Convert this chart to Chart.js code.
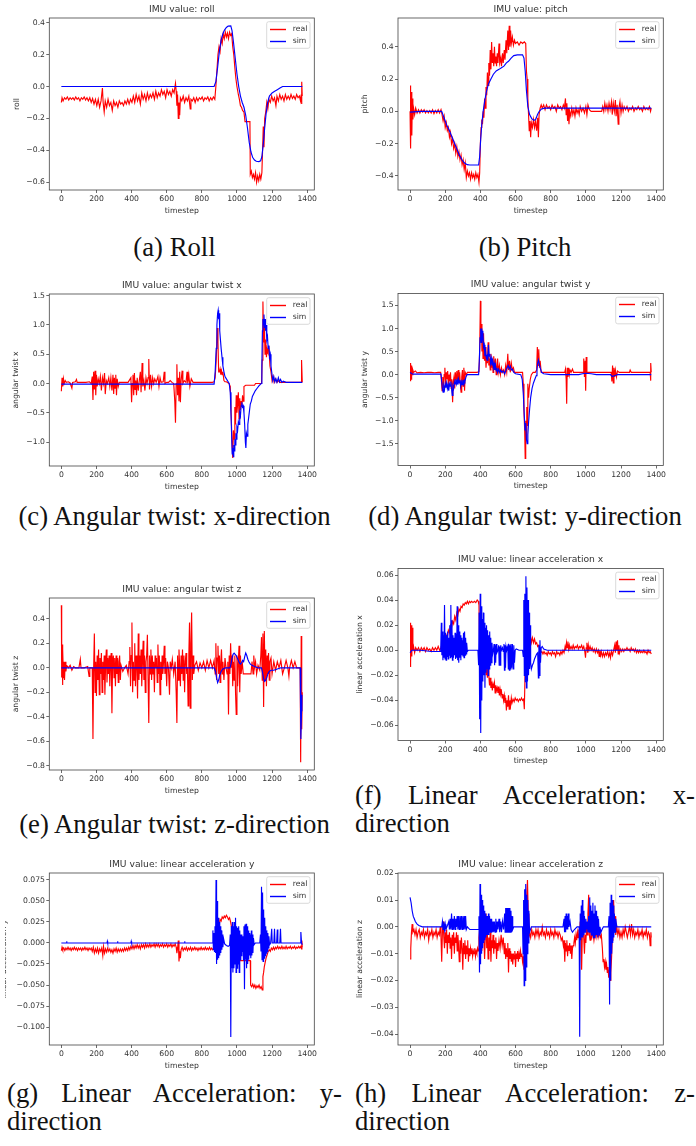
<!DOCTYPE html>
<html lang="en">
<head>
<meta charset="UTF-8" />
<title>IMU values: real vs sim</title>
<script src="https://cdn.jsdelivr.net/npm/chart.js"></script>
<style>
  html, body { margin: 0; padding: 0; background: #fff; }
  body { position: relative; width: 696px; height: 1146px; overflow: hidden; }
  .clip { position: absolute; overflow: hidden; }
  .clip canvas { position: absolute; }
  .cap { position: absolute; font-family: "Liberation Serif", "Times New Roman", serif; font-size: 26.7px; line-height: 27.7px; color: #111; white-space: nowrap; }
  .cap.center { text-align: center; }
  .cap .just { text-align: justify; text-align-last: justify; }
</style>
</head>
<body>

<div class="cap center" style="left:7px; top:234px; width:335px;">(a) Roll</div>
<div class="cap center" style="left:355px; top:234px; width:340px;">(b) Pitch</div>
<div class="cap center" style="left:7px; top:503px; width:335px;">(c) Angular twist: x-direction</div>
<div class="cap center" style="left:355px; top:503px; width:340px;">(d) Angular twist: y-direction</div>
<div class="cap center" style="left:7px; top:811px; width:335px;">(e) Angular twist: z-direction</div>
<div class="cap" style="left:355px; top:782px; width:340px;"><div class="just">(f) Linear Acceleration: x-</div><div>direction</div></div>
<div class="cap" style="left:7px; top:1080px; width:335px;"><div class="just">(g) Linear Acceleration: y-</div><div>direction</div></div>
<div class="cap" style="left:355px; top:1080px; width:340px;"><div class="just">(h) Linear Acceleration: z-</div><div>direction</div></div>

<script>
// ---- data: [timestep, value] ----
const rollReal = [[0,-0.10],[4,-0.07],[10,-0.09],[18,-0.07],[26,-0.08],[34,-0.065],[42,-0.085],[50,-0.07],[58,-0.08],[66,-0.07],[74,-0.085],[82,-0.065],[90,-0.08],[98,-0.07],[106,-0.09],[114,-0.07],[122,-0.08],[130,-0.065],[138,-0.085],[146,-0.07],[154,-0.09],[162,-0.07],[170,-0.1],[178,-0.075],[186,-0.11],[194,-0.08],[202,-0.12],[210,-0.08],[218,-0.13],[226,-0.09],[234,-0.01],[238,-0.1],[244,-0.16],[250,-0.09],[258,-0.13],[266,-0.08],[274,-0.12],[282,-0.1],[290,-0.15],[298,-0.09],[306,-0.12],[314,-0.1],[322,-0.13],[330,-0.09],[338,-0.11],[346,-0.1],[354,-0.12],[362,-0.09],[370,-0.11],[378,-0.08],[386,-0.11],[394,-0.08],[402,-0.1],[410,-0.06],[418,-0.1],[426,-0.05],[434,-0.09],[442,-0.06],[450,-0.11],[458,-0.04],[466,-0.08],[474,-0.05],[482,-0.09],[490,-0.04],[498,-0.08],[506,-0.05],[514,-0.07],[522,-0.04],[530,-0.08],[538,-0.03],[546,-0.07],[554,-0.04],[562,-0.06],[570,-0.02],[578,-0.05],[586,-0.03],[594,-0.07],[602,-0.02],[610,-0.05],[618,-0.03],[626,-0.06],[634,-0.02],[642,-0.04],[650,0.02],[654,-0.03],[658,-0.12],[662,-0.05],[666,-0.2],[670,-0.1],[674,-0.18],[678,-0.07],[686,-0.09],[694,-0.06],[702,-0.1],[710,-0.07],[718,-0.09],[726,-0.06],[734,-0.14],[738,-0.08],[746,-0.09],[754,-0.07],[762,-0.1],[770,-0.07],[778,-0.09],[786,-0.07],[794,-0.08],[802,-0.065],[810,-0.09],[818,-0.07],[826,-0.08],[834,-0.065],[842,-0.09],[850,-0.07],[858,-0.085],[866,-0.065],[874,-0.08],[880,0.0],[886,0.1],[892,0.2],[898,0.25],[904,0.22],[910,0.3],[916,0.27],[922,0.33],[928,0.3],[934,0.34],[940,0.31],[946,0.335],[952,0.3],[958,0.34],[964,0.32],[970,0.33],[976,0.25],[982,0.2],[988,0.12],[994,0.05],[1000,0.0],[1008,-0.05],[1014,-0.08],[1020,-0.12],[1026,-0.13],[1032,-0.15],[1040,-0.16],[1046,-0.22],[1052,-0.22],[1074,-0.22],[1076,-0.55],[1082,-0.53],[1088,-0.57],[1094,-0.55],[1100,-0.58],[1106,-0.54],[1112,-0.6],[1118,-0.56],[1124,-0.59],[1130,-0.55],[1136,-0.58],[1142,-0.54],[1146,-0.4],[1150,-0.25],[1154,-0.38],[1158,-0.2],[1164,-0.16],[1170,-0.1],[1176,-0.14],[1182,-0.08],[1190,-0.1],[1198,-0.06],[1206,-0.09],[1214,-0.07],[1222,-0.12],[1228,-0.06],[1236,-0.09],[1244,-0.05],[1252,-0.08],[1260,-0.06],[1268,-0.09],[1276,-0.05],[1284,-0.08],[1292,-0.06],[1300,-0.08],[1308,-0.05],[1316,-0.075],[1324,-0.06],[1332,-0.08],[1340,-0.05],[1348,-0.07],[1356,-0.06],[1362,-0.09],[1366,-0.05],[1368,-0.11],[1370,0.03],[1372,-0.06]];
const rollSim = [[0,0],[870,0],[880,0.03],[890,0.12],[900,0.22],[910,0.29],[920,0.33],[930,0.355],[940,0.37],[950,0.378],[965,0.38],[972,0.35],[980,0.28],[990,0.18],[1000,0.08],[1010,0.0],[1020,-0.06],[1030,-0.1],[1040,-0.13],[1050,-0.18],[1060,-0.26],[1070,-0.35],[1080,-0.41],[1090,-0.445],[1100,-0.46],[1110,-0.468],[1125,-0.47],[1135,-0.465],[1142,-0.44],[1150,-0.36],[1158,-0.26],[1166,-0.17],[1175,-0.1],[1185,-0.06],[1200,-0.04],[1215,-0.03],[1230,-0.02],[1245,-0.01],[1260,0.0],[1372,0.0]];

const pitchReal = [[0,0.0],[2,0.16],[4,-0.23],[7,0.12],[10,-0.15],[13,0.08],[16,-0.05],[20,0.02],[26,-0.02],[32,0.02],[40,-0.01],[48,0.01],[56,-0.01],[64,0.01],[72,-0.005],[80,0.01],[88,-0.01],[96,0.005],[104,-0.01],[112,0.005],[120,-0.01],[128,0.01],[136,-0.015],[144,0.005],[152,-0.01],[160,0.01],[168,-0.01],[176,0.01],[182,-0.02],[188,-0.06],[194,-0.03],[200,-0.1],[206,-0.07],[212,-0.12],[218,-0.1],[224,-0.16],[230,-0.13],[236,-0.2],[242,-0.17],[248,-0.23],[254,-0.2],[260,-0.26],[266,-0.22],[272,-0.28],[278,-0.25],[284,-0.3],[290,-0.27],[296,-0.33],[302,-0.3],[308,-0.36],[314,-0.32],[320,-0.41],[326,-0.37],[332,-0.4],[338,-0.38],[344,-0.42],[350,-0.38],[356,-0.41],[362,-0.39],[368,-0.42],[374,-0.38],[380,-0.41],[386,-0.39],[392,-0.44],[396,-0.38],[400,-0.2],[404,-0.1],[408,-0.05],[412,-0.08],[416,0.0],[420,-0.04],[424,0.08],[428,0.02],[432,0.15],[436,0.1],[440,0.24],[444,0.16],[448,0.3],[452,0.22],[456,0.38],[460,0.26],[464,0.43],[468,0.3],[472,0.36],[476,0.28],[480,0.4],[484,0.3],[488,0.34],[492,0.28],[496,0.36],[500,0.3],[506,0.42],[510,0.3],[516,0.33],[520,0.28],[526,0.36],[530,0.3],[536,0.38],[540,0.32],[546,0.44],[550,0.36],[556,0.5],[560,0.38],[564,0.53],[568,0.4],[572,0.5],[576,0.42],[582,0.46],[588,0.41],[594,0.44],[600,0.42],[610,0.43],[620,0.41],[630,0.43],[640,0.42],[650,0.43],[658,0.42],[662,0.25],[666,0.2],[670,0.08],[674,-0.02],[678,-0.12],[682,-0.06],[686,-0.16],[690,-0.07],[696,-0.1],[702,-0.05],[708,-0.1],[714,-0.06],[720,-0.12],[726,-0.04],[730,-0.16],[734,-0.02],[740,0.02],[746,0.04],[752,0.02],[760,0.04],[768,0.01],[776,0.04],[784,0.02],[792,0.03],[800,0.01],[808,0.04],[816,0.02],[824,0.03],[832,0.0],[840,0.04],[848,0.02],[856,0.03],[864,0.01],[872,0.04],[878,0.02],[884,0.08],[888,-0.02],[892,0.05],[896,-0.06],[900,0.02],[904,-0.08],[908,0.0],[914,-0.03],[920,0.02],[926,-0.02],[932,0.01],[938,-0.03],[944,0.02],[950,-0.01],[956,0.01],[962,-0.02],[968,0.03],[976,0.0],[984,0.02],[992,-0.01],[1000,0.03],[1006,-0.02],[1012,0.04],[1020,0.01],[1030,0.0],[1040,0.0],[1090,0.0],[1096,0.03],[1102,0.0],[1108,0.05],[1114,0.01],[1120,0.04],[1126,0.0],[1132,0.05],[1138,0.01],[1146,0.06],[1150,-0.02],[1156,0.05],[1162,0.0],[1168,0.07],[1172,-0.03],[1178,0.04],[1184,-0.08],[1188,0.02],[1194,0.06],[1200,-0.01],[1206,0.04],[1212,0.0],[1218,0.03],[1226,0.01],[1234,0.03],[1242,0.0],[1250,0.02],[1258,0.01],[1266,0.03],[1274,0.0],[1282,0.02],[1290,0.01],[1298,0.03],[1306,0.01],[1314,0.02],[1322,0.0],[1330,0.03],[1338,0.01],[1346,0.02],[1354,0.01],[1362,0.03],[1368,0.0],[1372,0.02]];
const pitchSim = [[0,-0.005],[60,0.0],[180,0.0],[190,-0.03],[200,-0.06],[210,-0.09],[220,-0.11],[235,-0.15],[250,-0.19],[265,-0.23],[280,-0.27],[295,-0.3],[310,-0.32],[325,-0.33],[340,-0.332],[390,-0.332],[396,-0.28],[402,-0.17],[408,-0.08],[416,0.0],[424,0.06],[434,0.12],[446,0.17],[460,0.2],[474,0.23],[490,0.25],[506,0.26],[520,0.27],[534,0.28],[548,0.3],[560,0.31],[575,0.33],[590,0.345],[610,0.35],[640,0.35],[648,0.33],[655,0.25],[662,0.13],[670,0.03],[680,-0.02],[692,-0.045],[705,-0.055],[715,-0.05],[725,-0.02],[735,0.0],[748,0.015],[765,0.02],[1372,0.02]];

const twistXReal = [[0,-0.13],[4,0.1],[8,-0.05],[12,0.08],[16,0.0],[22,0.05],[28,0.02],[40,0.03],[50,0.01],[60,-0.08],[64,0.02],[80,0.03],[86,0.07],[90,0.02],[110,0.02],[140,0.02],[160,0.03],[170,0.0],[176,0.12],[180,-0.28],[184,0.2],[188,-0.1],[192,0.22],[196,-0.2],[200,0.15],[204,-0.05],[210,0.08],[216,0.0],[222,0.12],[228,-0.12],[234,0.1],[240,0.0],[246,0.18],[250,-0.18],[256,0.05],[262,0.0],[270,0.1],[276,-0.05],[282,0.1],[288,-0.12],[294,0.15],[298,-0.18],[302,0.1],[306,-0.08],[310,0.15],[314,-0.2],[318,0.08],[324,-0.05],[330,0.02],[340,0.02],[360,0.02],[380,0.02],[396,0.1],[400,-0.32],[404,0.0],[408,0.15],[412,-0.2],[416,0.18],[420,-0.1],[424,0.05],[428,-0.2],[432,0.1],[438,-0.12],[444,0.05],[450,0.2],[454,-0.15],[460,0.35],[464,-0.05],[470,0.05],[476,-0.12],[482,0.1],[488,0.0],[494,0.1],[498,0.42],[502,-0.1],[508,0.15],[514,-0.05],[520,0.1],[526,0.0],[532,0.08],[540,0.02],[550,0.12],[556,-0.05],[562,0.1],[568,0.02],[580,0.03],[586,0.2],[590,0.0],[600,0.02],[610,0.02],[620,0.05],[630,0.02],[640,0.0],[646,-0.3],[650,-0.67],[654,0.0],[658,0.33],[662,-0.2],[666,0.1],[670,-0.3],[674,0.2],[678,-0.32],[682,0.05],[688,0.22],[692,0.0],[700,0.05],[710,0.02],[716,0.2],[720,0.0],[726,0.15],[732,-0.05],[740,0.08],[750,0.02],[780,0.02],[820,0.02],[860,0.02],[870,0.03],[876,0.1],[882,0.4],[888,0.95],[892,0.7],[896,0.2],[900,0.2],[904,0.25],[908,0.15],[912,0.22],[916,0.15],[920,0.2],[926,0.05],[932,0.03],[940,0.03],[955,0.0],[962,-0.05],[968,-0.6],[972,-1.0],[976,-1.27],[980,-0.8],[984,-0.95],[988,-0.4],[992,-0.7],[996,-0.2],[1000,-0.5],[1004,-0.35],[1008,-0.15],[1012,-0.6],[1016,-0.25],[1020,-0.45],[1024,-0.3],[1028,-0.4],[1032,-0.2],[1036,-0.3],[1040,-0.05],[1050,-0.03],[1100,-0.03],[1106,0.0],[1140,0.0],[1144,0.4],[1148,1.4],[1152,0.7],[1156,1.0],[1160,0.5],[1164,0.75],[1168,0.45],[1172,0.6],[1176,0.55],[1182,0.6],[1188,0.3],[1194,0.2],[1200,0.05],[1206,0.12],[1212,0.02],[1220,0.08],[1228,0.02],[1236,0.05],[1244,0.02],[1260,0.02],[1300,0.02],[1366,0.02],[1368,0.4],[1372,0.02]];
const twistXSim = [[0,-0.01],[870,-0.01],[876,0.2],[882,0.6],[886,1.0],[890,1.2],[893,1.25],[896,1.1],[899,1.2],[902,0.9],[906,0.75],[910,0.6],[915,0.45],[920,0.3],[926,0.2],[932,0.12],[940,0.08],[948,0.04],[956,0.0],[962,-0.15],[966,-0.5],[970,-0.9],[973,-1.2],[976,-1.1],[979,-1.25],[982,-1.05],[985,-1.15],[988,-0.95],[991,-1.05],[994,-0.85],[997,-0.95],[1000,-0.75],[1004,-0.8],[1008,-0.65],[1012,-0.7],[1016,-0.5],[1020,-0.55],[1024,-0.38],[1028,-0.32],[1032,-0.4],[1036,-0.38],[1040,-0.5],[1044,-0.7],[1048,-1.0],[1051,-1.1],[1054,-0.85],[1058,-0.9],[1062,-0.7],[1066,-0.6],[1070,-0.5],[1076,-0.35],[1082,-0.3],[1088,-0.22],[1095,-0.18],[1105,-0.12],[1115,-0.08],[1125,-0.04],[1138,0.0],[1142,0.3],[1145,0.9],[1148,1.1],[1151,1.0],[1154,1.18],[1157,0.95],[1160,1.1],[1163,0.9],[1166,1.0],[1170,0.75],[1174,0.8],[1178,0.6],[1182,0.65],[1186,0.45],[1190,0.5],[1194,0.3],[1198,0.2],[1204,0.05],[1210,0.12],[1216,0.03],[1222,0.08],[1228,0.02],[1236,0.1],[1242,0.03],[1248,0.07],[1256,0.02],[1264,0.04],[1280,0.02],[1320,0.02],[1372,0.02]];

const twistYReal = [[0,-0.13],[3,0.25],[6,-0.1],[9,0.2],[12,0.0],[16,0.1],[20,0.05],[30,0.08],[40,0.04],[60,0.05],[80,0.04],[100,0.05],[120,0.05],[140,0.04],[160,0.05],[174,0.05],[178,-0.1],[182,-0.35],[186,-0.05],[190,-0.3],[194,0.0],[198,0.15],[202,-0.2],[206,0.05],[210,-0.1],[214,0.08],[218,-0.25],[222,0.0],[226,-0.15],[230,0.05],[234,-0.3],[238,-0.1],[242,-0.6],[246,-0.15],[250,-0.05],[254,-0.3],[258,0.05],[262,-0.1],[266,0.08],[270,-0.2],[274,0.1],[278,-0.15],[282,0.05],[286,-0.2],[290,-0.38],[294,-0.05],[298,0.1],[302,-0.25],[306,0.15],[310,-0.35],[314,0.05],[320,0.0],[326,0.05],[340,0.05],[360,0.05],[380,0.05],[392,0.06],[396,0.5],[400,1.6],[403,0.7],[406,1.1],[409,0.5],[412,0.8],[415,0.35],[418,0.9],[421,0.4],[424,0.3],[428,0.6],[432,0.15],[436,0.4],[440,0.25],[444,0.7],[448,0.2],[452,0.35],[456,0.1],[460,0.45],[464,0.15],[468,0.3],[472,0.05],[476,0.4],[480,0.1],[486,0.35],[490,0.0],[494,0.15],[498,0.35],[502,0.05],[508,0.2],[514,0.0],[520,0.15],[526,0.05],[532,0.1],[538,0.0],[544,0.2],[550,0.05],[556,0.45],[560,0.1],[566,0.3],[570,0.05],[576,0.25],[582,0.1],[588,0.15],[594,0.05],[600,0.05],[620,0.05],[640,0.05],[644,-0.2],[648,-0.8],[652,-1.2],[655,-1.82],[658,-1.0],[661,-1.4],[664,-0.7],[667,-1.1],[670,-0.2],[674,-0.5],[678,-0.3],[684,-0.1],[690,0.0],[700,0.05],[712,0.05],[720,0.1],[724,0.6],[728,0.2],[732,0.55],[736,0.15],[740,0.3],[746,0.05],[760,0.05],[800,0.05],[840,0.05],[880,0.05],[884,0.12],[888,-0.1],[891,-0.63],[894,0.15],[898,-0.05],[902,0.15],[906,0.0],[910,0.1],[916,0.05],[924,0.12],[930,0.05],[960,0.05],[984,0.05],[988,0.35],[992,-0.05],[996,0.3],[999,-0.35],[1002,0.38],[1006,0.05],[1020,0.05],[1060,0.05],[1100,0.05],[1144,0.05],[1148,-0.15],[1152,0.2],[1156,-0.18],[1160,0.15],[1164,-0.05],[1168,0.1],[1174,-0.05],[1180,0.08],[1190,0.05],[1220,0.05],[1248,0.05],[1252,0.1],[1258,0.05],[1300,0.05],[1340,0.05],[1366,0.05],[1368,-0.13],[1370,0.25],[1372,0.05]];
const twistYSim = [[0,0.05],[10,0.02],[20,0.01],[176,0.01],[180,-0.15],[184,-0.3],[188,-0.38],[192,-0.25],[196,-0.32],[200,-0.2],[204,-0.28],[208,-0.18],[212,-0.3],[216,-0.22],[220,-0.35],[224,-0.2],[228,-0.25],[232,-0.15],[236,-0.3],[240,-0.45],[244,-0.25],[248,-0.3],[252,-0.15],[256,-0.2],[260,-0.1],[264,-0.2],[268,-0.12],[272,-0.22],[276,-0.1],[280,-0.18],[284,-0.12],[288,-0.25],[292,-0.15],[296,-0.22],[300,-0.12],[304,-0.2],[308,-0.12],[312,-0.15],[318,-0.05],[324,0.0],[390,0.0],[394,0.3],[398,0.8],[402,1.0],[405,0.7],[408,1.0],[411,0.75],[414,0.95],[418,0.6],[422,0.65],[426,0.4],[430,0.5],[434,0.35],[438,0.4],[442,0.3],[446,0.65],[450,0.4],[454,0.45],[458,0.25],[462,0.35],[466,0.2],[470,0.3],[474,0.15],[478,0.25],[482,0.1],[486,0.2],[490,0.08],[494,0.15],[498,0.05],[504,0.12],[510,0.05],[516,0.1],[522,0.05],[530,0.08],[538,0.02],[546,0.1],[552,0.15],[558,0.2],[564,0.12],[570,0.18],[576,0.1],[582,0.12],[590,0.05],[600,0.02],[630,0.0],[638,-0.1],[644,-0.4],[650,-0.9],[654,-1.2],[658,-1.05],[662,-1.4],[666,-1.5],[670,-1.3],[674,-1.05],[680,-0.75],[686,-0.5],[694,-0.3],[702,-0.18],[710,-0.1],[718,-0.02],[722,0.1],[726,0.25],[730,0.32],[734,0.25],[740,0.15],[748,0.05],[760,0.02],[800,0.0],[960,0.0],[980,0.02],[1000,0.03],[1030,0.02],[1060,0.0],[1140,0.0],[1150,-0.04],[1165,-0.02],[1180,0.0],[1372,0.0]];

const twistZReal = [[0,0.51],[2,-0.08],[4,0.19],[6,-0.14],[9,0.15],[12,-0.08],[15,0.05],[18,-0.1],[22,0.05],[26,-0.03],[30,0.02],[40,0.0],[50,0.02],[60,-0.02],[70,0.01],[80,0.0],[100,0.0],[108,0.07],[112,0.0],[130,0.0],[150,0.01],[158,-0.07],[162,0.0],[176,0.0],[180,-0.58],[184,0.0],[188,0.28],[192,-0.2],[196,0.05],[200,-0.23],[204,0.1],[208,-0.1],[212,0.15],[216,-0.22],[220,0.08],[224,-0.05],[228,0.12],[232,-0.2],[236,0.05],[240,-0.1],[244,0.1],[248,-0.22],[252,0.02],[256,0.15],[260,-0.12],[264,0.08],[268,-0.05],[272,0.1],[276,-0.15],[280,0.05],[284,0.12],[288,-0.37],[292,0.05],[296,0.1],[300,-0.08],[304,0.08],[308,-0.15],[312,0.1],[316,-0.05],[320,0.08],[324,-0.12],[328,0.05],[332,0.1],[336,-0.1],[340,0.02],[350,-0.03],[360,0.0],[370,0.02],[380,-0.05],[386,0.05],[390,0.17],[394,-0.15],[398,0.1],[402,0.37],[406,-0.2],[410,0.05],[414,-0.1],[418,0.2],[422,-0.15],[426,0.1],[430,0.05],[434,-0.25],[438,0.28],[442,-0.1],[446,0.1],[450,-0.05],[454,0.15],[458,-0.15],[462,0.05],[466,0.22],[470,-0.1],[474,0.1],[478,-0.2],[482,0.05],[486,0.1],[490,0.27],[494,-0.1],[498,-0.45],[502,0.1],[506,-0.05],[510,0.15],[514,-0.1],[518,0.1],[522,-0.05],[526,0.05],[530,-0.2],[534,0.1],[538,0.0],[542,0.08],[546,-0.12],[550,0.19],[554,-0.05],[558,0.1],[562,-0.22],[566,0.05],[570,-0.1],[574,0.1],[578,-0.05],[582,0.05],[586,0.18],[590,-0.05],[594,0.08],[600,-0.15],[604,0.05],[610,0.0],[616,-0.22],[620,0.05],[626,0.0],[632,0.07],[640,-0.05],[648,0.05],[654,-0.2],[658,-0.45],[662,0.1],[666,-0.1],[670,0.15],[674,0.0],[678,-0.15],[682,0.1],[686,-0.05],[690,0.15],[694,-0.1],[698,0.1],[702,-0.2],[706,0.05],[710,0.12],[714,-0.05],[718,0.0],[722,-0.31],[726,0.1],[730,0.37],[734,-0.33],[738,0.2],[742,0.45],[746,-0.1],[750,0.1],[754,-0.05],[760,0.02],[770,0.05],[780,-0.02],[790,0.04],[800,0.0],[810,0.05],[820,-0.02],[830,0.06],[840,0.0],[850,0.06],[860,0.0],[870,0.06],[876,-0.05],[880,0.2],[884,-0.1],[888,0.08],[892,0.18],[896,-0.05],[900,0.1],[904,-0.12],[908,0.05],[912,0.15],[916,-0.05],[920,0.05],[926,-0.1],[932,0.08],[938,0.0],[944,-0.05],[948,0.05],[952,-0.38],[956,0.1],[960,-0.05],[964,0.2],[968,0.0],[972,0.1],[976,-0.15],[980,0.05],[984,-0.1],[988,0.1],[992,-0.2],[996,-0.38],[1000,0.1],[1004,-0.15],[1008,0.05],[1012,0.18],[1016,-0.2],[1020,0.1],[1024,-0.05],[1030,0.05],[1036,-0.05],[1040,-0.05],[1080,-0.05],[1086,0.05],[1092,-0.05],[1096,0.1],[1100,0.0],[1106,0.05],[1112,-0.05],[1120,0.02],[1130,-0.02],[1136,0.1],[1140,0.25],[1144,-0.1],[1148,0.28],[1152,-0.32],[1156,0.3],[1160,-0.1],[1164,0.15],[1168,-0.15],[1172,0.1],[1176,-0.05],[1180,0.12],[1184,-0.1],[1188,0.05],[1194,0.08],[1200,-0.05],[1210,0.05],[1220,-0.02],[1230,0.05],[1240,0.0],[1250,0.06],[1260,-0.05],[1270,0.0],[1280,0.06],[1290,0.0],[1296,-0.07],[1300,0.0],[1310,0.06],[1320,0.0],[1330,0.05],[1340,0.0],[1360,0.0],[1363,-0.77],[1366,0.26],[1369,-0.5],[1372,-0.2]];
const twistZSim = [[0,0.0],[870,0.0],[878,-0.03],[884,-0.08],[890,-0.12],[896,-0.1],[902,-0.06],[910,-0.03],[920,-0.01],[935,0.0],[960,0.0],[966,0.03],[972,0.08],[978,0.11],[984,0.12],[990,0.11],[996,0.1],[1002,0.08],[1008,0.06],[1014,0.04],[1020,0.03],[1026,0.04],[1032,0.06],[1038,0.05],[1044,0.09],[1050,0.12],[1056,0.1],[1062,0.07],[1068,0.05],[1076,0.03],[1086,0.02],[1100,0.01],[1120,0.0],[1140,0.0],[1146,-0.04],[1152,-0.09],[1158,-0.11],[1164,-0.1],[1170,-0.08],[1176,-0.05],[1184,-0.03],[1194,-0.02],[1210,-0.02],[1230,-0.01],[1250,0.0],[1360,0.0],[1364,-0.58],[1368,-0.35],[1370,-0.22]];

const accXReal = [[0,-0.013],[2,0.022],[4,-0.01],[7,0.02],[10,-0.005],[13,0.018],[16,0.0],[20,0.003],[26,-0.002],[32,0.002],[40,0.0],[48,0.002],[56,-0.001],[64,0.002],[72,0.0],[80,0.002],[88,-0.001],[96,0.002],[104,0.0],[112,0.001],[120,-0.001],[128,0.002],[136,0.0],[144,0.002],[152,0.0],[160,0.003],[168,0.0],[176,0.002],[182,0.005],[188,0.002],[194,0.008],[200,0.006],[206,0.012],[212,0.01],[218,0.016],[224,0.014],[230,0.02],[236,0.018],[242,0.023],[248,0.021],[254,0.027],[260,0.024],[266,0.03],[272,0.028],[278,0.033],[284,0.031],[290,0.035],[296,0.034],[302,0.037],[308,0.036],[314,0.038],[320,0.037],[326,0.039],[332,0.037],[338,0.039],[344,0.038],[350,0.039],[358,0.038],[366,0.039],[374,0.038],[382,0.04],[388,0.039],[392,0.036],[396,0.0],[400,-0.01],[404,-0.006],[408,-0.014],[412,-0.01],[416,-0.018],[420,-0.012],[424,-0.016],[428,-0.01],[432,-0.02],[436,-0.013],[440,-0.022],[444,-0.015],[448,-0.02],[452,-0.028],[456,-0.022],[460,-0.03],[464,-0.025],[468,-0.032],[472,-0.027],[476,-0.03],[480,-0.026],[484,-0.034],[488,-0.028],[492,-0.032],[496,-0.03],[500,-0.034],[504,-0.029],[508,-0.036],[512,-0.031],[516,-0.035],[520,-0.033],[524,-0.038],[528,-0.035],[532,-0.04],[536,-0.036],[540,-0.042],[544,-0.038],[548,-0.048],[552,-0.04],[556,-0.045],[560,-0.036],[564,-0.047],[568,-0.04],[572,-0.044],[576,-0.038],[580,-0.042],[586,-0.039],[592,-0.041],[598,-0.038],[604,-0.04],[610,-0.039],[616,-0.041],[622,-0.039],[628,-0.04],[634,-0.038],[640,-0.04],[646,-0.039],[650,-0.047],[654,-0.02],[658,0.01],[662,0.016],[666,0.01],[670,0.014],[674,0.008],[678,0.012],[682,0.007],[686,0.01],[690,0.006],[696,0.01],[702,0.006],[708,0.009],[714,0.005],[720,0.006],[726,0.003],[732,0.004],[738,0.0],[744,-0.002],[750,-0.001],[756,-0.003],[762,-0.001],[768,-0.003],[774,-0.002],[780,-0.004],[786,-0.001],[792,-0.003],[798,-0.002],[804,-0.004],[810,-0.001],[816,-0.003],[822,-0.002],[828,-0.005],[834,-0.001],[840,-0.003],[846,-0.002],[852,-0.004],[858,-0.001],[864,-0.003],[870,0.0],[876,-0.002],[882,0.003],[886,0.0],[890,0.006],[894,0.002],[898,0.007],[902,0.001],[906,0.004],[910,0.001],[916,0.003],[922,0.001],[928,0.004],[934,0.001],[940,0.003],[946,0.002],[952,0.004],[958,0.001],[964,0.003],[970,0.002],[976,0.004],[982,0.001],[988,0.003],[994,-0.001],[998,-0.006],[1002,0.002],[1006,0.006],[1010,-0.002],[1014,0.004],[1018,0.0],[1024,0.003],[1030,0.0],[1036,0.002],[1042,-0.001],[1048,0.001],[1054,-0.002],[1060,0.001],[1066,-0.002],[1072,0.0],[1076,-0.005],[1080,0.0],[1084,-0.004],[1088,-0.001],[1094,-0.005],[1100,-0.002],[1106,-0.005],[1112,-0.002],[1118,-0.004],[1124,-0.001],[1130,-0.005],[1136,-0.002],[1140,-0.006],[1146,-0.001],[1152,-0.004],[1158,0.0],[1164,0.004],[1168,-0.002],[1172,0.007],[1176,0.0],[1180,0.008],[1184,-0.003],[1188,0.004],[1192,-0.002],[1198,0.001],[1204,-0.001],[1210,0.001],[1216,-0.001],[1222,0.001],[1228,0.0],[1234,0.002],[1240,0.0],[1246,0.001],[1252,-0.001],[1258,0.002],[1264,0.0],[1270,0.001],[1276,-0.001],[1282,0.001],[1288,-0.002],[1294,0.0],[1300,-0.002],[1306,0.0],[1312,-0.002],[1318,-0.001],[1324,-0.002],[1330,0.0],[1336,-0.002],[1342,-0.001],[1348,-0.003],[1354,0.0],[1360,-0.002],[1366,-0.001],[1372,-0.003]];
const accXSim = [[0,-0.002],[10,0.0],[60,0.0],[120,-0.001],[174,-0.001],[178,0.022],[181,-0.004],[184,0.015],[187,-0.008],[190,0.012],[193,-0.006],[196,0.036],[199,-0.007],[202,0.014],[205,-0.008],[208,0.012],[211,-0.005],[214,0.015],[217,-0.007],[220,0.01],[223,-0.004],[226,0.02],[229,-0.006],[232,0.036],[235,-0.005],[238,0.024],[241,-0.008],[244,0.012],[247,-0.006],[250,0.01],[253,-0.004],[256,0.014],[259,-0.007],[262,0.013],[265,-0.006],[268,0.035],[271,-0.008],[274,0.02],[277,-0.01],[280,0.015],[283,-0.006],[286,0.012],[289,-0.008],[292,0.01],[295,-0.004],[298,0.008],[301,-0.005],[304,0.014],[307,-0.006],[310,0.015],[313,-0.004],[316,0.01],[319,-0.003],[322,0.006],[326,-0.001],[332,0.0],[340,0.0],[386,0.0],[390,-0.012],[393,0.03],[396,-0.055],[399,0.045],[402,-0.066],[405,0.035],[408,-0.04],[411,0.025],[414,-0.025],[417,0.03],[420,-0.02],[423,0.022],[426,-0.03],[429,0.018],[432,-0.018],[435,0.02],[438,-0.015],[441,0.016],[444,-0.02],[447,0.012],[450,-0.015],[453,0.015],[456,-0.012],[459,0.01],[462,-0.01],[466,0.006],[470,-0.003],[474,0.0],[478,0.005],[481,-0.012],[484,0.004],[487,-0.01],[490,0.005],[494,-0.002],[500,0.0],[504,0.004],[507,-0.012],[510,0.003],[513,-0.012],[516,0.004],[520,0.0],[526,0.002],[530,-0.001],[534,0.005],[537,-0.016],[540,0.004],[543,-0.014],[546,0.003],[550,0.0],[556,0.003],[559,-0.015],[562,0.005],[565,-0.016],[568,0.004],[571,-0.015],[574,0.005],[578,-0.014],[582,0.005],[586,-0.015],[590,0.004],[594,-0.01],[598,0.0],[604,0.001],[620,0.0],[640,0.0],[644,-0.005],[647,0.04],[650,-0.02],[653,0.045],[656,-0.025],[659,0.059],[662,-0.03],[665,0.05],[668,-0.025],[671,0.04],[674,-0.02],[677,0.03],[680,-0.015],[683,0.02],[686,-0.01],[690,-0.015],[696,-0.012],[702,-0.01],[708,-0.007],[714,-0.005],[720,-0.003],[726,-0.002],[730,-0.022],[733,0.004],[736,-0.02],[739,0.008],[742,-0.01],[746,0.002],[752,0.003],[760,0.001],[780,0.0],[1372,0.0]];

const accYReal = [[0,-0.009],[4,-0.005],[8,-0.008],[14,-0.006],[20,-0.009],[26,-0.006],[32,-0.008],[38,-0.005],[44,-0.008],[50,-0.006],[56,-0.009],[62,-0.006],[68,-0.008],[74,-0.005],[80,-0.008],[86,-0.006],[92,-0.009],[98,-0.006],[104,-0.008],[110,-0.006],[116,-0.009],[122,-0.006],[128,-0.008],[134,-0.005],[140,-0.008],[146,-0.006],[152,-0.009],[158,-0.006],[164,-0.008],[170,-0.006],[176,-0.01],[182,-0.005],[188,-0.012],[194,-0.007],[200,-0.011],[206,-0.006],[212,-0.012],[218,-0.007],[224,-0.01],[230,-0.006],[236,-0.015],[240,-0.004],[246,-0.012],[252,-0.007],[258,-0.011],[264,-0.006],[270,-0.01],[276,-0.007],[282,-0.011],[288,-0.008],[294,-0.012],[300,-0.007],[306,-0.01],[312,-0.006],[318,-0.011],[324,-0.007],[330,-0.01],[336,-0.007],[342,-0.01],[348,-0.007],[354,-0.01],[360,-0.006],[366,-0.009],[372,-0.006],[378,-0.009],[384,-0.005],[390,-0.008],[396,-0.004],[402,-0.007],[408,-0.003],[414,-0.007],[420,-0.003],[426,-0.006],[432,-0.002],[438,-0.006],[444,-0.003],[450,-0.007],[456,-0.002],[462,-0.005],[468,-0.002],[474,-0.006],[480,-0.001],[486,-0.005],[492,-0.002],[498,-0.005],[504,-0.001],[510,-0.005],[516,-0.002],[522,-0.004],[528,-0.001],[534,-0.005],[540,-0.001],[546,-0.004],[552,-0.001],[558,-0.005],[564,-0.002],[570,-0.004],[576,-0.001],[582,-0.005],[588,-0.002],[594,-0.004],[600,-0.001],[606,-0.005],[612,-0.002],[618,-0.004],[624,-0.001],[630,-0.005],[636,-0.002],[642,-0.004],[648,-0.001],[654,-0.005],[658,-0.012],[662,-0.006],[666,0.003],[670,-0.022],[674,-0.01],[678,-0.018],[682,-0.008],[688,-0.005],[694,-0.009],[700,-0.006],[706,-0.008],[712,-0.005],[718,-0.009],[724,-0.006],[730,-0.008],[736,-0.005],[742,-0.009],[748,-0.006],[754,-0.008],[760,-0.005],[766,-0.008],[772,-0.006],[778,-0.009],[784,-0.006],[790,-0.008],[796,-0.005],[802,-0.008],[808,-0.006],[814,-0.008],[820,-0.005],[826,-0.008],[832,-0.006],[838,-0.008],[844,-0.005],[850,-0.008],[856,-0.006],[862,-0.008],[868,-0.006],[874,-0.007],[880,0.0],[886,0.012],[892,0.022],[898,0.02],[904,0.028],[910,0.026],[916,0.031],[922,0.029],[928,0.032],[934,0.03],[940,0.033],[946,0.031],[952,0.028],[958,0.03],[964,0.025],[970,0.018],[976,0.01],[982,0.003],[988,-0.002],[994,-0.006],[1000,-0.01],[1006,-0.013],[1012,-0.017],[1018,-0.021],[1024,-0.021],[1076,-0.021],[1078,-0.05],[1084,-0.052],[1090,-0.049],[1096,-0.053],[1102,-0.05],[1108,-0.054],[1114,-0.051],[1120,-0.053],[1126,-0.05],[1132,-0.054],[1138,-0.052],[1144,-0.056],[1148,-0.04],[1152,-0.035],[1156,-0.028],[1160,-0.024],[1166,-0.018],[1172,-0.014],[1178,-0.01],[1184,-0.008],[1190,-0.01],[1196,-0.006],[1202,-0.008],[1208,-0.005],[1214,-0.008],[1220,-0.005],[1226,-0.007],[1232,-0.004],[1238,-0.007],[1244,-0.005],[1250,-0.007],[1256,-0.004],[1262,-0.007],[1268,-0.005],[1274,-0.007],[1280,-0.004],[1286,-0.007],[1292,-0.005],[1298,-0.006],[1304,-0.004],[1310,-0.007],[1316,-0.005],[1322,-0.006],[1328,-0.004],[1334,-0.007],[1340,-0.005],[1346,-0.006],[1352,-0.004],[1358,-0.006],[1364,-0.004],[1368,-0.007],[1370,0.003],[1372,-0.005]];
const accYSim = [[0,0.0],[28,0.0],[30,0.002],[32,0.0],[260,0.0],[262,0.002],[264,0.0],[318,0.0],[320,0.002],[322,0.0],[396,0.0],[398,0.002],[400,0.0],[700,0.0],[702,0.002],[704,0.0],[860,0.0],[863,0.015],[866,-0.008],[869,0.012],[872,-0.01],[875,0.02],[878,-0.012],[881,0.075],[884,-0.025],[887,0.05],[890,-0.02],[893,0.03],[896,-0.018],[899,0.025],[902,-0.015],[905,0.02],[908,-0.012],[911,0.015],[914,-0.008],[917,0.01],[920,-0.005],[924,0.005],[930,-0.001],[940,-0.003],[950,-0.004],[958,-0.003],[962,0.01],[965,-0.112],[968,0.02],[971,-0.03],[974,0.025],[977,-0.035],[980,0.02],[983,-0.03],[986,0.025],[989,-0.025],[992,0.03],[995,-0.035],[998,0.02],[1001,-0.03],[1004,0.018],[1007,-0.025],[1010,0.02],[1013,-0.035],[1016,0.015],[1019,-0.02],[1022,0.01],[1025,-0.015],[1028,0.01],[1031,-0.01],[1034,0.008],[1037,-0.02],[1040,0.02],[1043,-0.055],[1046,0.022],[1049,-0.02],[1052,0.023],[1055,-0.03],[1058,0.02],[1061,-0.025],[1064,0.015],[1067,-0.02],[1070,0.012],[1073,-0.015],[1076,0.01],[1079,-0.018],[1082,0.015],[1085,-0.015],[1088,0.01],[1091,-0.012],[1094,0.006],[1098,-0.002],[1105,0.0],[1130,0.0],[1134,0.01],[1137,-0.01],[1140,0.067],[1143,-0.02],[1146,0.06],[1149,-0.022],[1152,0.04],[1155,-0.018],[1158,0.03],[1161,-0.015],[1164,0.02],[1167,-0.012],[1170,0.015],[1173,-0.01],[1176,0.012],[1179,-0.006],[1182,0.008],[1186,-0.002],[1192,0.0],[1198,0.017],[1201,0.0],[1210,0.0],[1214,0.017],[1217,0.0],[1226,0.0],[1230,0.016],[1233,0.0],[1244,0.0],[1248,0.017],[1251,0.0],[1360,0.0],[1364,0.013],[1368,0.0],[1372,-0.002]];

const accZReal = [[0,-0.012],[4,-0.008],[8,-0.002],[12,0.001],[16,-0.002],[22,-0.001],[28,-0.003],[34,-0.001],[40,-0.004],[46,-0.002],[52,-0.001],[58,-0.004],[64,-0.002],[70,-0.003],[76,-0.001],[82,-0.004],[88,-0.002],[94,-0.003],[100,-0.001],[106,-0.005],[112,-0.002],[118,-0.003],[124,-0.001],[130,-0.004],[136,-0.002],[142,-0.003],[148,-0.001],[154,-0.004],[160,-0.002],[166,-0.003],[172,0.0],[176,-0.004],[180,-0.013],[184,-0.002],[188,0.002],[192,-0.004],[196,-0.008],[200,-0.002],[204,-0.006],[208,-0.001],[212,-0.01],[216,-0.003],[220,-0.006],[224,-0.002],[228,-0.008],[232,-0.004],[236,-0.012],[240,-0.003],[244,-0.007],[248,-0.002],[252,-0.01],[256,-0.004],[260,-0.006],[264,-0.002],[268,-0.009],[272,-0.003],[276,-0.007],[280,-0.013],[284,-0.005],[288,-0.01],[292,-0.004],[296,-0.008],[300,-0.016],[304,-0.006],[308,-0.01],[312,-0.005],[316,-0.012],[320,-0.007],[324,-0.01],[328,-0.005],[332,-0.013],[336,-0.008],[340,-0.011],[344,-0.008],[348,-0.01],[352,-0.008],[356,-0.011],[360,-0.009],[364,-0.01],[368,-0.008],[372,-0.011],[376,-0.009],[380,-0.01],[384,-0.008],[388,-0.009],[392,-0.004],[396,-0.001],[400,-0.006],[404,-0.002],[408,-0.009],[412,-0.003],[416,0.004],[420,-0.005],[424,-0.012],[428,-0.004],[432,0.005],[436,-0.008],[440,-0.003],[444,-0.012],[448,-0.004],[452,-0.009],[456,-0.002],[460,-0.013],[464,-0.005],[468,-0.008],[472,-0.003],[476,-0.01],[480,-0.005],[484,-0.008],[488,-0.004],[492,-0.012],[496,-0.006],[500,-0.009],[506,-0.005],[512,-0.008],[518,-0.003],[524,-0.007],[530,-0.004],[536,-0.01],[540,-0.006],[544,-0.012],[548,-0.008],[552,-0.011],[556,-0.006],[560,-0.017],[564,-0.008],[568,-0.012],[572,-0.009],[576,-0.013],[580,-0.01],[584,-0.014],[588,-0.01],[592,-0.012],[596,-0.009],[600,-0.015],[604,-0.01],[608,-0.012],[612,-0.009],[616,-0.013],[620,-0.01],[624,-0.012],[628,-0.009],[632,-0.011],[636,-0.01],[640,-0.013],[644,-0.011],[648,-0.016],[652,-0.006],[656,0.004],[660,0.002],[664,0.012],[668,0.0175],[672,0.005],[676,-0.004],[680,-0.002],[686,-0.004],[692,-0.001],[698,-0.003],[704,-0.002],[710,-0.004],[716,-0.001],[722,-0.003],[728,-0.001],[734,-0.004],[740,-0.002],[746,-0.003],[752,0.0],[758,-0.003],[764,-0.002],[770,-0.004],[776,-0.001],[782,-0.003],[788,-0.002],[794,-0.004],[800,-0.001],[806,-0.003],[812,-0.002],[818,-0.004],[824,-0.001],[830,-0.003],[836,-0.002],[842,-0.004],[848,-0.002],[854,-0.003],[860,-0.005],[866,-0.004],[872,-0.007],[876,-0.005],[880,-0.013],[884,-0.006],[888,-0.009],[892,-0.005],[896,-0.011],[900,-0.007],[904,-0.009],[908,-0.006],[912,-0.01],[916,-0.007],[920,-0.012],[924,-0.008],[928,-0.007],[932,-0.006],[936,-0.004],[940,-0.006],[944,-0.003],[948,-0.005],[952,-0.002],[956,-0.004],[960,-0.001],[964,-0.003],[968,0.002],[972,-0.002],[976,-0.016],[980,-0.002],[984,0.0],[988,-0.004],[992,-0.01],[996,-0.003],[1000,-0.006],[1004,0.0],[1008,-0.003],[1012,0.005],[1016,0.012],[1020,-0.003],[1024,-0.005],[1028,-0.002],[1034,-0.004],[1040,-0.002],[1046,-0.005],[1052,-0.002],[1058,-0.004],[1064,-0.001],[1070,-0.004],[1076,-0.002],[1082,-0.004],[1088,-0.003],[1094,-0.008],[1098,-0.013],[1102,-0.012],[1106,-0.015],[1110,-0.013],[1114,-0.016],[1118,-0.014],[1122,-0.017],[1126,-0.015],[1130,-0.019],[1134,-0.016],[1138,-0.02],[1142,-0.017],[1146,-0.012],[1150,-0.005],[1154,0.002],[1158,0.01],[1162,-0.002],[1166,0.004],[1170,-0.003],[1176,0.0],[1182,-0.003],[1188,-0.001],[1194,-0.004],[1200,-0.002],[1206,-0.004],[1212,-0.001],[1218,-0.003],[1224,0.0],[1230,-0.002],[1236,-0.004],[1242,-0.002],[1248,0.0],[1254,-0.003],[1260,0.001],[1266,-0.003],[1272,-0.001],[1278,-0.004],[1284,-0.002],[1290,-0.003],[1296,-0.001],[1302,-0.004],[1308,-0.002],[1314,-0.003],[1320,-0.001],[1326,-0.004],[1332,-0.002],[1338,-0.003],[1344,-0.001],[1350,-0.004],[1356,-0.002],[1362,-0.003],[1366,-0.007],[1370,-0.002],[1372,-0.004]];
const accZSim = [[0,0.011],[6,0.009],[12,0.006],[18,0.004],[24,0.003],[30,0.002],[40,0.001],[50,0.0005],[70,0.0],[180,0.0],[184,0.002],[188,-0.001],[192,0.002],[196,-0.001],[200,0.001],[204,-0.001],[210,0.0],[220,0.002],[224,-0.001],[228,0.003],[232,-0.001],[236,0.005],[240,-0.001],[244,0.003],[248,-0.001],[252,0.004],[256,-0.001],[260,0.003],[264,0.0],[268,0.004],[272,-0.001],[276,0.004],[280,-0.001],[284,0.004],[288,-0.001],[292,0.004],[296,-0.001],[300,0.004],[304,-0.001],[308,0.004],[312,-0.001],[316,0.004],[320,-0.001],[326,0.0],[340,-0.001],[360,-0.001],[388,-0.001],[392,0.004],[395,-0.017],[398,0.016],[401,-0.014],[404,0.012],[407,-0.01],[410,0.01],[413,-0.008],[416,0.008],[419,-0.006],[422,0.006],[425,-0.005],[428,0.005],[431,-0.004],[434,0.004],[437,-0.003],[440,0.004],[443,-0.003],[446,0.005],[449,-0.003],[452,0.004],[455,-0.002],[458,0.003],[461,-0.002],[464,0.003],[468,-0.002],[472,0.002],[476,-0.002],[480,0.002],[484,-0.002],[488,0.003],[492,-0.002],[496,0.002],[500,-0.001],[506,0.003],[510,-0.002],[516,0.002],[520,-0.002],[526,0.002],[532,-0.001],[538,0.005],[541,-0.002],[544,0.007],[547,-0.002],[550,0.007],[553,-0.002],[556,0.007],[559,-0.002],[562,0.007],[565,-0.002],[568,0.007],[571,-0.002],[574,0.006],[577,-0.002],[580,0.004],[584,-0.001],[590,0.0],[640,0.0],[643,-0.01],[646,0.01],[649,-0.022],[652,0.014],[655,-0.02],[658,0.016],[661,-0.015],[664,0.012],[667,-0.01],[670,0.01],[673,-0.006],[676,0.006],[680,-0.002],[690,0.0],[870,0.0],[876,0.003],[879,-0.002],[882,0.004],[885,-0.002],[888,0.005],[891,-0.001],[894,0.004],[897,-0.001],[900,0.005],[904,0.0],[910,0.002],[916,-0.001],[924,-0.002],[935,-0.001],[950,0.0],[962,0.0],[965,-0.041],[968,0.005],[971,-0.005],[974,0.008],[977,-0.004],[980,0.01],[983,-0.004],[986,0.006],[989,-0.003],[992,0.004],[996,-0.002],[1000,0.003],[1004,-0.001],[1008,0.002],[1012,-0.002],[1016,0.004],[1019,-0.002],[1022,0.011],[1025,-0.002],[1028,0.008],[1031,-0.003],[1034,0.006],[1037,-0.003],[1040,0.009],[1043,-0.004],[1046,0.005],[1049,-0.004],[1052,0.008],[1055,-0.003],[1058,0.006],[1061,-0.003],[1064,0.004],[1068,-0.004],[1072,0.003],[1076,-0.003],[1080,0.0],[1086,-0.002],[1092,-0.001],[1100,0.0],[1128,0.0],[1132,0.004],[1135,-0.029],[1138,0.009],[1141,-0.02],[1144,0.012],[1147,-0.01],[1150,0.01],[1153,-0.006],[1156,0.008],[1159,-0.004],[1162,0.005],[1166,-0.002],[1170,0.003],[1176,0.0],[1190,0.0],[1372,0.0]];

const xTicks = [0, 200, 400, 600, 800, 1000, 1200, 1400];

// ---- layout of the 8 panels ----
const panels = [
  { title: 'IMU value: roll', ylabel: 'roll', real: rollReal, sim: rollSim, ymin: -0.648, ymax: 0.429, step: 0.2, dec: 1, col: 0, top: 18, ylx: 17 },
  { title: 'IMU value: pitch', ylabel: 'pitch', real: pitchReal, sim: pitchSim, ymin: -0.487, ymax: 0.578, step: 0.2, dec: 1, col: 1, top: 18, ylx: 17 },
  { title: 'IMU value: angular twist x', ylabel: 'angular twist x', real: twistXReal, sim: twistXSim, ymin: -1.408, ymax: 1.529, step: 0.5, dec: 1, col: 0, top: 294, ylx: 15.7 },
  { title: 'IMU value: angular twist y', ylabel: 'angular twist y', real: twistYReal, sim: twistYSim, ymin: -1.971, ymax: 1.76, step: 0.5, dec: 1, col: 1, top: 293.5, ylx: 17 },
  { title: 'IMU value: angular twist z', ylabel: 'angular twist z', real: twistZReal, sim: twistZSim, ymin: -0.833, ymax: 0.569, step: 0.2, dec: 1, col: 0, top: 598, ylx: 15.7 },
  { title: 'IMU value: linear acceleration x', ylabel: 'linear acceleration x', real: accXReal, sim: accXSim, ymin: -0.072, ymax: 0.0652, step: 0.02, dec: 2, col: 1, top: 568.5, ylx: 12 },
  { title: 'IMU value: linear acceleration y', ylabel: 'linear acceleration y', real: accYReal, sim: accYSim, ymin: -0.1214, ymax: 0.0833, step: 0.025, dec: 3, col: 0, top: 873, ylx: 4.5, clipLeft: 5 },
  { title: 'IMU value: linear acceleration z', ylabel: 'linear acceleration z', real: accZReal, sim: accZSim, ymin: -0.0441, ymax: 0.0201, step: 0.01, dec: 2, col: 1, top: 873, ylx: 12 }
];

const FONT = 'DejaVu Sans';
const TXT = '#333';
const AX = '#444';
const PLOT_H = 172;
const XAX_H = 28;
const CANVAS_H = 222;

// spines, title and legend drawn the matplotlib way
const framePlugin = {
  id: 'frame',
  afterDraw(chart, args, opts) {
    const { ctx, chartArea: a } = chart;
    ctx.save();
    ctx.strokeStyle = AX;
    ctx.lineWidth = 0.8;
    ctx.strokeRect(a.left, a.top, a.right - a.left, a.bottom - a.top);

    ctx.fillStyle = TXT;
    ctx.font = '9.2px "' + FONT + '"';
    ctx.textAlign = 'center';
    ctx.textBaseline = 'middle';
    ctx.fillText(opts.text, (a.left + a.right) / 2, a.top - 8.8);

    const w = 43.3, h = 26.6;
    const x0 = a.right - 4.3 - w, y0 = a.top + 3.7;
    ctx.beginPath();
    ctx.roundRect(x0, y0, w, h, 2);
    ctx.fillStyle = 'rgba(255,255,255,0.8)';
    ctx.fill();
    ctx.strokeStyle = '#d0d0d0';
    ctx.lineWidth = 0.8;
    ctx.stroke();

    ctx.font = '7.7px "' + FONT + '"';
    ctx.textAlign = 'left';
    chart.data.datasets.forEach((ds, i) => {
      const y = Math.round(y0 + 6.8 + i * 12.4) + 0.5;
      ctx.beginPath();
      ctx.moveTo(x0 + 3.3, y);
      ctx.lineTo(x0 + 19.3, y);
      ctx.strokeStyle = ds.borderColor;
      ctx.lineWidth = 1.4;
      ctx.stroke();
      ctx.fillStyle = TXT;
      ctx.fillText(ds.label, x0 + 26, y);
    });
    ctx.restore();
  }
};

function fmt(v, dec) {
  if (Math.abs(v) < 1e-9) v = 0;
  return v.toFixed(dec).replace('-', '\u2212');
}

panels.forEach(p => {
  const colX = p.col === 0 ? 0 : 348;
  const yAxisW = p.col === 0 ? 49.3 : 50;
  const padRight = p.col === 0 ? 33.7 : 32.7;
  const canvasTop = Math.floor(p.top) - 18;
  const padTop = p.top - canvasTop;
  const padBottom = CANVAS_H - padTop - PLOT_H - XAX_H;

  const clipLeft = p.clipLeft || 0;
  const wrap = document.createElement('div');
  wrap.className = 'clip';
  wrap.style.left = (colX + clipLeft) + 'px';
  wrap.style.top = canvasTop + 'px';
  wrap.style.width = (348 - clipLeft) + 'px';
  wrap.style.height = CANVAS_H + 'px';
  const cv = document.createElement('canvas');
  cv.width = 348;
  cv.height = CANVAS_H;
  cv.style.left = (-clipLeft) + 'px';
  cv.style.top = '0px';
  cv.style.width = '348px';
  cv.style.height = CANVAS_H + 'px';
  wrap.appendChild(cv);
  document.body.appendChild(wrap);

  const tickFont = { family: FONT, size: 7.7, lineHeight: 1.2 };

  new Chart(cv.getContext('2d'), {
    type: 'line',
    data: {
      datasets: [
        { label: 'real', data: p.real.map(d => ({ x: d[0], y: d[1] })), borderColor: '#ff0000', borderWidth: 1.15, pointRadius: 0, tension: 0, fill: false, order: 2 },
        { label: 'sim', data: p.sim.map(d => ({ x: d[0], y: d[1] })), borderColor: '#0000ff', borderWidth: 1.15, pointRadius: 0, tension: 0, fill: false, order: 1 }
      ]
    },
    options: {
      responsive: false,
      devicePixelRatio: 1,
      animation: false,
      events: [],
      layout: { padding: { left: 0, top: padTop, right: padRight, bottom: padBottom } },
      plugins: {
        legend: { display: false },
        tooltip: { enabled: false },
        frame: { text: p.title }
      },
      scales: {
        x: {
          type: 'linear',
          min: -68.6,
          max: 1440.6,
          afterBuildTicks: s => { s.ticks = xTicks.map(v => ({ value: v })); },
          afterFit: s => { s.height = XAX_H; s.paddingLeft = 0; s.paddingRight = 0; },
          border: { display: false },
          grid: { display: true, drawOnChartArea: false, drawTicks: true, tickLength: 3, color: AX, lineWidth: 0.8 },
          ticks: { autoSkip: false, maxRotation: 0, padding: 1.4, color: TXT, font: tickFont, callback: v => String(v) },
          title: { display: true, text: 'timestep', color: TXT, font: tickFont, padding: { top: 0, bottom: 2.7 } }
        },
        y: {
          type: 'linear',
          min: p.ymin,
          max: p.ymax,
          afterFit: s => { s.width = yAxisW; s.paddingTop = 0; s.paddingBottom = 0; },
          border: { display: false },
          grid: { display: true, drawOnChartArea: false, drawTicks: true, tickLength: 3, color: AX, lineWidth: 0.8 },
          ticks: { stepSize: p.step, includeBounds: false, autoSkip: false, padding: 1.3, color: TXT, font: tickFont, callback: v => fmt(v, p.dec) },
          title: { display: true, text: p.ylabel, color: TXT, font: tickFont, padding: { top: p.ylx - 4.62, bottom: 0 } }
        }
      }
    },
    plugins: [framePlugin]
  });
});
</script>
</body>
</html>
